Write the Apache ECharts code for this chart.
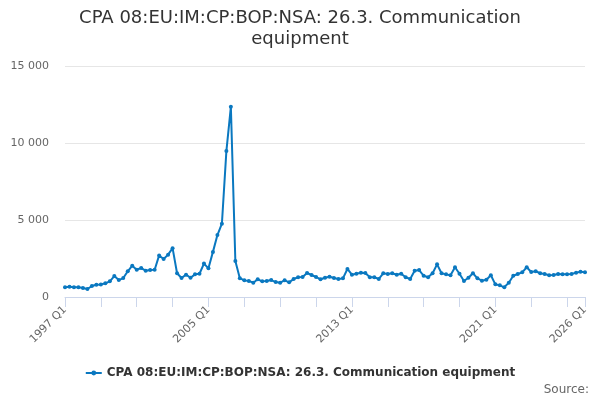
<!DOCTYPE html>
<html>
<head>
<meta charset="utf-8">
<script src="https://cdn.jsdelivr.net/npm/echarts@6/dist/echarts.min.js"></script>
<style>
    html, body { margin: 0; padding: 0; background: #fff; }
    #chart { width: 600px; height: 400px; }
</style>
</head>
<body>
<div id="chart"></div>
<script>
// quarters 1997 Q1 .. 2026 Q1
const firstYear = 1997;
const lastYear = 2026;
const quarters = [];
for (let y = firstYear; y <= lastYear; y++) {
    for (let q = 1; q <= 4; q++) {
        if (y === lastYear && q > 1) break;
        quarters.push(y + ' Q' + q);
    }
}

const seriesName = 'CPA 08:EU:IM:CP:BOP:NSA: 26.3. Communication equipment';

// values
const values1997to2007 = [
    630, 670, 630, 630, 585, 520, 714, 800, 810, 890, 1020, 1360,
    1100, 1230, 1670, 2030, 1770, 1880, 1710, 1750, 1770, 2700, 2470, 2750,
    3170, 1540, 1230, 1450, 1250, 1470, 1510, 2170, 1860, 2930, 4020, 4760,
    9475, 12350, 2340, 1220, 1080, 1040, 930, 1150
];
const values2008to2015 = [
    1020, 1040, 1100, 970, 930, 1080, 950, 1170, 1280, 1300, 1560, 1430,
    1300, 1150, 1250, 1320, 1230, 1170, 1210, 1820, 1450, 1510, 1580, 1560,
    1280, 1280, 1170, 1540, 1490, 1540, 1450, 1510
];
const values2016to2026 = [
    1280, 1170, 1710, 1750, 1380, 1280, 1540, 2120, 1540, 1470, 1410, 1930,
    1510, 1040, 1250, 1540, 1210, 1060, 1120, 1410, 820, 760, 630, 930,
    1380, 1490, 1600, 1930, 1620, 1670, 1540, 1490, 1410, 1430, 1490, 1470,
    1470, 1490, 1580, 1640, 1600
];
const values = values1997to2007.concat(values2008to2015, values2016to2026);

const yTicks = [0, 5000, 10000, 15000];

const lastIdx = quarters.length - 1;
const fmt = (v) => String(v).replace(/\B(?=(\d{3})+(?!\d))/g, ' ');

var chart = echarts.init(document.getElementById('chart'));

var option = {
    animation: false,
    textStyle: { fontFamily: 'DejaVu Sans' },
    title: {
        text: 'CPA 08:EU:IM:CP:BOP:NSA: 26.3. Communication\nequipment',
        left: 'center',
        top: 3,
        textStyle: {
            color: '#333333',
            fontSize: 18,
            fontWeight: 'normal',
            lineHeight: 21
        }
    },
    grid: {
        left: 65,
        right: 15,
        top: 66,
        bottom: 103
    },
    legend: {
        bottom: 16,
        left: 'center',
        itemWidth: 16,
        itemHeight: 6,
        itemGap: 10,
        textStyle: {
            color: '#333333',
            fontSize: 12,
            fontWeight: 'bold'
        },
        data: [seriesName]
    },
    xAxis: {
        type: 'category',
        data: quarters,
        boundaryGap: false,
        axisLine: { lineStyle: { color: '#ccd6eb' } },
        axisTick: {
            length: 10,
            lineStyle: { color: '#ccd6eb' },
            interval: (i) => i % 8 === 0 || i === lastIdx
        },
        axisLabel: {
            rotate: 45,
            color: '#666666',
            fontSize: 11,
            margin: 11,
            interval: (i) => i % 32 === 0 || i === lastIdx
        },
        splitLine: { show: false }
    },
    yAxis: {
        type: 'value',
        min: yTicks[0],
        max: yTicks[yTicks.length - 1],
        interval: 5000,
        axisLine: { show: false },
        axisTick: { show: false },
        axisLabel: {
            color: '#666666',
            fontSize: 11,
            margin: 16,
            formatter: fmt
        },
        splitLine: { lineStyle: { color: '#e6e6e6' } }
    },
    series: [{
        name: seriesName,
        type: 'line',
        data: values,
        symbol: 'circle',
        symbolSize: 4,
        showAllSymbol: true,
        color: '#0a78c0',
        lineStyle: { width: 2, color: '#0a78c0' },
        itemStyle: { color: '#0a78c0' }
    }],
    graphic: [{
        type: 'text',
        right: 11,
        top: 384,
        style: {
            text: 'Source:',
            fill: '#666666',
            fontSize: 12,
            fontFamily: 'DejaVu Sans'
        }
    }]
};

option && chart.setOption(option);
</script>
</body>
</html>
